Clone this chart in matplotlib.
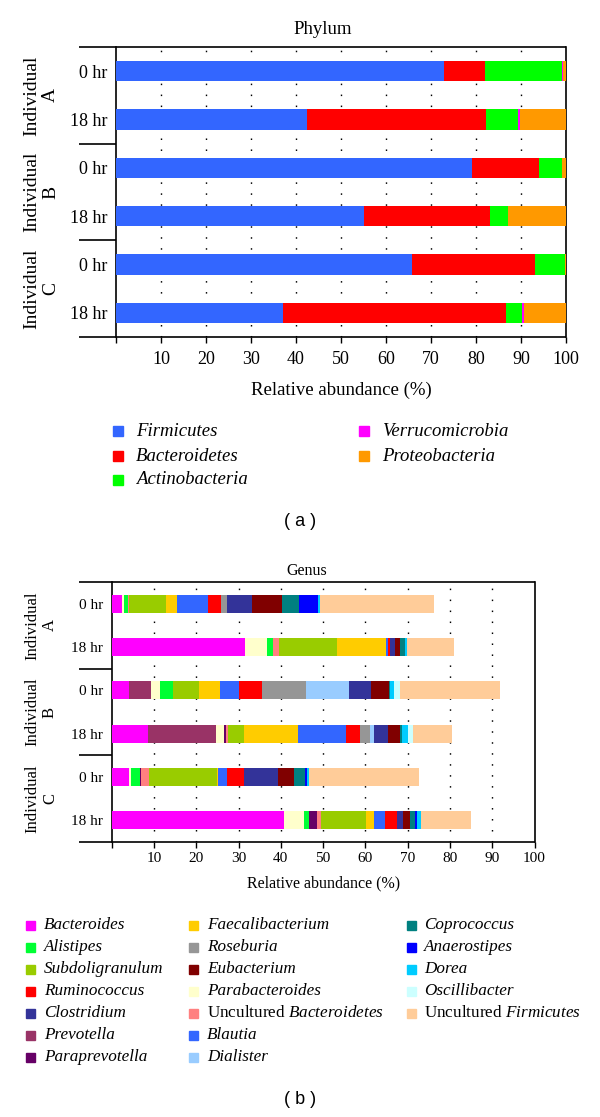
import matplotlib
matplotlib.use('Agg')
import matplotlib.pyplot as plt
from matplotlib.patches import Rectangle
import numpy as np

plt.rcParams['font.family'] = ['Liberation Serif', 'DejaVu Serif']
plt.rcParams['mathtext.fontset'] = 'custom'
plt.rcParams['mathtext.rm'] = 'Liberation Serif'
plt.rcParams['mathtext.it'] = 'Liberation Serif:italic'

# ---------------- data ----------------
row_labels = ['0 hr', '18 hr', '0 hr', '18 hr', '0 hr', '18 hr']
individuals = ['A', 'B', 'C']
x_ticks = [0, 10, 20, 30, 40, 50, 60, 70, 80, 90, 100]
x_tick_labels = ['', '10', '20', '30', '40', '50', '60', '70', '80', '90', '100']

phylum_names = ['Firmicutes', 'Bacteroidetes', 'Actinobacteria',
                'Verrucomicrobia', 'Proteobacteria']
firmicutes = [72.9, 42.5, 79.1, 55.1, 65.7, 37.1]
bacteroidetes = [9.2, 39.8, 14.9, 28.0, 27.3, 49.6]
actinobacteria = [16.9, 7.1, 5.0, 3.9, 6.7, 3.6]
verrucomicrobia = [0.3, 0.3, 0.1, 0.1, 0.0, 0.3]
proteobacteria = [0.7, 10.3, 0.9, 12.9, 0.3, 9.4]
phylum_colors = ['#3366FF', '#FF0000', '#00FF00', '#FF00FF', '#FF9900']

# genus values, rows: A 0hr, A 18hr, B 0hr, B 18hr, C 0hr, C 18hr
bacteroides = [2.5, 31.5, 4.1, 8.6, 4.1, 40.8]
prevotella = [0.0, 0.0, 5.3, 16.0, 0.0, 0.0]
parabacteroides = [0.3, 5.3, 2.0, 2.0, 0.5, 4.7]
alistipes = [1.0, 1.4, 3.2, 0.0, 2.1, 1.2]
paraprevotella = [0.0, 0.0, 0.0, 0.4, 0.2, 1.8]
uncult_bacteroidetes = [0.2, 1.4, 0.0, 0.6, 2.0, 1.0]
subdoligranulum = [8.8, 13.8, 6.0, 3.7, 15.9, 10.6]
faecalibacterium = [2.6, 11.5, 4.9, 12.8, 0.4, 2.0]
blautia = [7.4, 0.5, 4.7, 11.3, 2.0, 2.5]
ruminococcus = [3.1, 0.4, 5.3, 3.3, 4.1, 2.8]
roseburia = [1.3, 0.0, 10.5, 2.4, 0.0, 0.0]
dialister = [0.0, 0.0, 10.2, 1.0, 0.0, 0.0]
clostridium = [5.9, 1.3, 5.1, 3.3, 8.0, 1.6]
eubacterium = [7.1, 1.2, 4.3, 2.9, 3.8, 1.5]
coprococcus = [4.2, 1.1, 0.3, 0.3, 2.6, 1.2]
anaerostipes = [4.4, 0.0, 0.0, 0.0, 0.6, 0.4]
dorea = [0.4, 0.5, 0.9, 1.4, 0.4, 1.1]
oscillibacter = [0.1, 0.0, 1.5, 1.3, 0.0, 0.0]
uncult_firmicutes = [26.9, 11.1, 23.5, 9.3, 26.1, 11.7]

genus_stack = [
    ('Bacteroides', bacteroides, '#FF00FF'),
    ('Prevotella', prevotella, '#993366'),
    ('Parabacteroides', parabacteroides, '#FFFFCC'),
    ('Alistipes', alistipes, '#00FF33'),
    ('Paraprevotella', paraprevotella, '#660066'),
    ('Uncultured Bacteroidetes', uncult_bacteroidetes, '#FF8080'),
    ('Subdoligranulum', subdoligranulum, '#99CC00'),
    ('Faecalibacterium', faecalibacterium, '#FFCC00'),
    ('Blautia', blautia, '#3366FF'),
    ('Ruminococcus', ruminococcus, '#FF0000'),
    ('Roseburia', roseburia, '#969696'),
    ('Dialister', dialister, '#99CCFF'),
    ('Clostridium', clostridium, '#333399'),
    ('Eubacterium', eubacterium, '#800000'),
    ('Coprococcus', coprococcus, '#008080'),
    ('Anaerostipes', anaerostipes, '#0000FF'),
    ('Dorea', dorea, '#00CCFF'),
    ('Oscillibacter', oscillibacter, '#CCFFFF'),
    ('Uncultured Firmicutes', uncult_firmicutes, '#FFCC99'),
]
genus_colors = {n: c for n, _, c in genus_stack}

genus_legend_cols = [
    ['Bacteroides', 'Alistipes', 'Subdoligranulum', 'Ruminococcus',
     'Clostridium', 'Prevotella', 'Paraprevotella'],
    ['Faecalibacterium', 'Roseburia', 'Eubacterium', 'Parabacteroides',
     'Uncultured Bacteroidetes', 'Blautia', 'Dialister'],
    ['Coprococcus', 'Anaerostipes', 'Dorea', 'Oscillibacter',
     'Uncultured Firmicutes'],
]

# ---------------- figure ----------------
W, H = 600, 1117
fig = plt.figure(figsize=(W / 100, H / 100), dpi=100)


def fx(px):
    return px / W


def fy(py):
    return 1 - py / H


def legend_label(name):
    if name.startswith('Uncultured '):
        return 'Uncultured $\\it{' + name.split(' ', 1)[1] + '}$'
    return name


def panel(left, right, top, bottom, series, colors, title, line_left,
          tick_fs, lab_fs, group_fs, title_y, tick_pad, xtick_pad, xlab_pad):
    ax = fig.add_axes([fx(left), fy(bottom), (right - left) / W, (bottom - top) / H])
    ax.set_xlim(0, 100)
    ax.set_ylim(6, 0)
    y = np.arange(6) + 0.5
    acc = np.zeros(6)
    for vals, c in zip(series, colors):
        vals = np.asarray(vals, dtype=float)
        ax.barh(y, vals, left=acc, height=0.42, color=c, lw=0, zorder=3)
        acc += vals
    for xv in x_ticks[1:-1]:
        ax.axvline(xv, color='black', lw=1.0, ls=(0, (1.1, 6.8)), zorder=1)
    for s in ['top', 'bottom']:
        ax.spines[s].set_visible(False)
    for s in ['left', 'right']:
        ax.spines[s].set_linewidth(1.2)
    x0 = (line_left - left) / (right - left)
    tr = ax.get_yaxis_transform()
    for yy, x1 in [(0, 1), (2, 0), (4, 0), (6, 1)]:
        ax.plot([x0, x1], [yy, yy], transform=tr, color='black', lw=1.2,
                clip_on=False, zorder=5, solid_capstyle='butt')
    ax.set_yticks(y)
    ax.set_yticklabels(row_labels, fontsize=tick_fs)
    ax.tick_params(axis='y', length=0, pad=tick_pad)
    ax.set_xticks(x_ticks)
    ax.set_xticklabels(x_tick_labels, fontsize=tick_fs)
    ax.tick_params(axis='x', length=4, width=1.0, direction='out', pad=xtick_pad)
    ax.set_xlabel('Relative abundance (%)', fontsize=lab_fs, labelpad=xlab_pad)
    # group labels
    pxh = (bottom - top) / 6
    for i, ind in enumerate(individuals):
        cy = top + pxh * (2 * i + 1)
        fig.text(fx(41), fy(cy), 'Individual\n' + ind, rotation=90,
                 ha='center', va='center', fontsize=group_fs,
                 multialignment='center', linespacing=1.15)
    fig.text(fx((line_left + right) / 2), fy(title_y), title,
             ha='center', va='center', fontsize=lab_fs)
    return ax


# ---- (a) Phylum ----
panel(116, 566, 47, 337,
      [firmicutes, bacteroidetes, actinobacteria, verrucomicrobia, proteobacteria],
      phylum_colors, 'Phylum', 79, 13, 13.5, 14, 30, 6, 6, 10)

leg_a = [(118, 136, 431, 0), (118, 136, 456, 1), (118, 136, 480, 2),
         (364, 382, 431, 3), (364, 382, 456, 4)]
for mx, tx, ty, k in leg_a:
    fig.patches.append(Rectangle((fx(mx - 5), fy(ty + 5)), 10 / W, 10 / H,
                                 transform=fig.transFigure, color=phylum_colors[k]))
    fig.text(fx(tx), fy(ty), phylum_names[k], style='italic',
             ha='left', va='center', fontsize=13.5)

fig.text(fx(300), fy(522), '( a )', family='Liberation Sans',
         ha='center', va='center', fontsize=13)

# ---- (b) Genus ----
panel(111.7, 534.5, 582, 842,
      [v for _, v, _ in genus_stack], [c for _, _, c in genus_stack],
      'Genus', 79, 11, 11.5, 12, 571, 6, 3, 8)

col_x = [(30, 44), (193, 207), (411, 424)]
row_y = [925, 947, 969, 991, 1013, 1035, 1057]
for (mx, tx), names in zip(col_x, genus_legend_cols):
    for ty, name in zip(row_y, names):
        fig.patches.append(Rectangle((fx(mx - 4.5), fy(ty + 4.5)), 9 / W, 9 / H,
                                     transform=fig.transFigure,
                                     color=genus_colors[name]))
        if name.startswith('Uncultured '):
            fig.text(fx(tx), fy(ty), legend_label(name),
                     ha='left', va='center', fontsize=12.3)
        else:
            fig.text(fx(tx), fy(ty), name, style='italic',
                     ha='left', va='center', fontsize=12.3)

fig.text(fx(300), fy(1100), '( b )', family='Liberation Sans',
         ha='center', va='center', fontsize=13)

fig.savefig('out.png', dpi=100)
